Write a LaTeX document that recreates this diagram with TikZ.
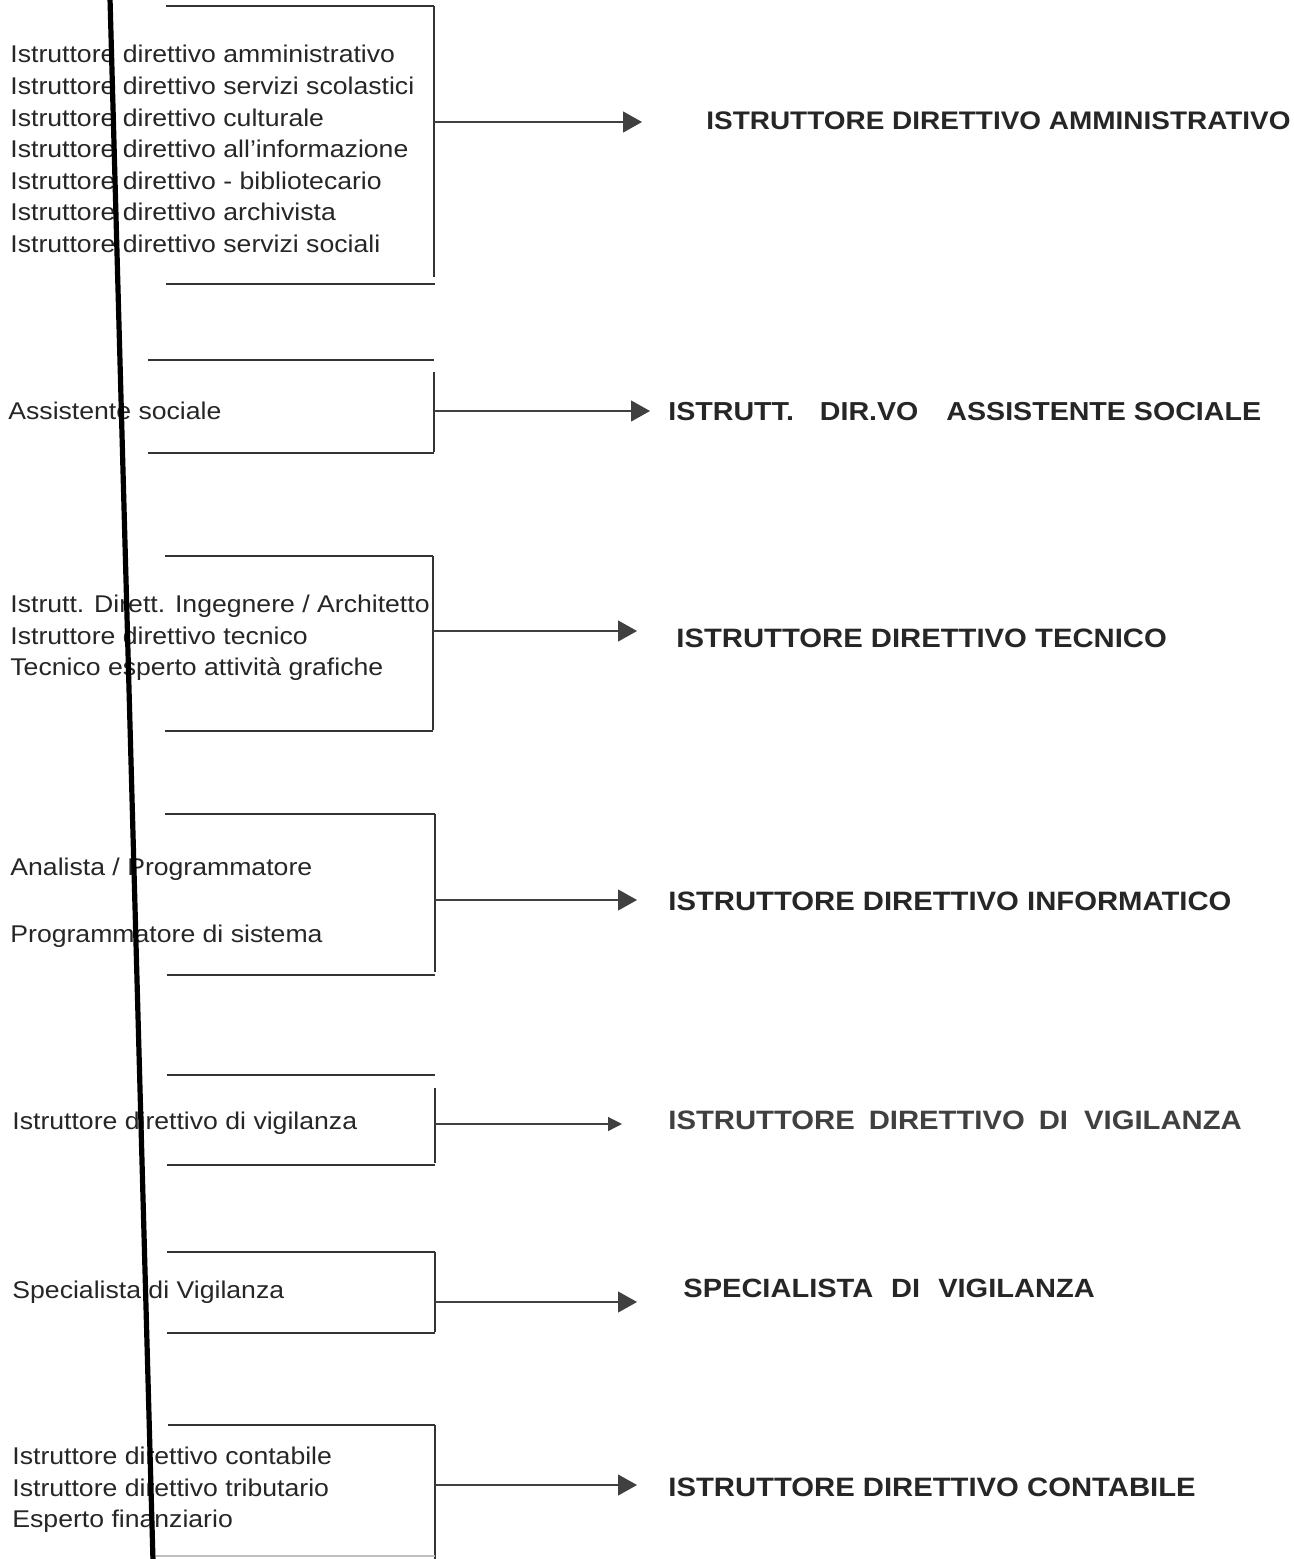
\documentclass[tikz,border=0pt]{standalone}
\usepackage{fontspec}
\setmainfont[FakeStretch=1.1]{Liberation Sans}
\usetikzlibrary{arrows.meta}

\begin{document}
\begin{tikzpicture}[x=0.5pt,y=-0.5pt,
      voce/.style={anchor=west,align=left,inner sep=0pt,text=black!85,font=\fontsize{12.1}{15.8}\selectfont},
      profilo/.style={anchor=west,inner sep=0pt,text=black!85,font=\fontsize{13.3}{15}\selectfont\bfseries},
      riga/.style={line width=0.9pt,black!80},
      lato/.style={line width=0.6pt,black!80},
      freccia/.style={line width=0.6pt,black!75,-{Triangle[length=9.5pt,width=10.5pt]}}]
      \useasboundingbox (0,0) rectangle (1294,1559);
      % profili di partenza
      \node[voce] (v1) at (10,149) {Istruttore direttivo amministrativo\\Istruttore direttivo servizi scolastici\\Istruttore direttivo culturale\\Istruttore direttivo all’informazione\\Istruttore direttivo - bibliotecario\\Istruttore direttivo archivista\\Istruttore direttivo servizi sociali};
      \node[voce] (v2) at (8,411) {Assistente sociale};
      \node[voce] (v3) at (10,638) {Istrutt. Dirett. Ingegnere / Architetto\\Istruttore direttivo tecnico\\Tecnico esperto attività grafiche};
      \node[voce] (v4) at (10,903) {Analista / Programmatore\\[17.5pt]Programmatore di sistema};
      \node[voce] (v5) at (12,1123) {Istruttore direttivo di vigilanza};
      \node[voce] (v6) at (12,1292) {Specialista di Vigilanza};
      \node[voce] (v7) at (12,1490) {Istruttore direttivo contabile\\Istruttore direttivo tributario\\Esperto finanziario};
      % parentesi
      \draw[riga] (166,6) -- (434,6);
      \draw[lato] (434,6) -- (434,277);
      \draw[riga] (166,284) -- (435,284);
      \draw[riga] (148,360) -- (434,360);
      \draw[lato] (434,372) -- (434,452);
      \draw[riga] (148,453) -- (434,453);
      \draw[riga] (165,556) -- (433,556);
      \draw[lato] (433,556) -- (433,730);
      \draw[riga] (165,731) -- (433,731);
      \draw[riga] (165,814) -- (435,814);
      \draw[lato] (435,814) -- (435,972);
      \draw[riga] (167,975) -- (435,975);
      \draw[riga] (167,1075) -- (435,1075);
      \draw[lato] (435,1088) -- (435,1163);
      \draw[riga] (167,1165) -- (435,1165);
      \draw[riga] (167,1252) -- (435,1252);
      \draw[lato] (435,1252) -- (435,1332);
      \draw[riga] (167,1333) -- (435,1333);
      \draw[riga] (168,1425) -- (435,1425);
      \draw[lato] (435,1425) -- (435,1559);
      \draw[line width=0.6pt,black!25] (155,1556) -- (435,1556);
      % riga spessa
      \draw[line width=2.6pt,black] (110,-2) -- (153,1561);
      % profili di arrivo
      \node[profilo,font=\fontsize{12.7}{15}\selectfont\bfseries] (p1) at (706,121) {ISTRUTTORE DIRETTIVO AMMINISTRATIVO};
      \node[profilo,font=\fontsize{13}{15}\selectfont\bfseries] (p2) at (668,412) {ISTRUTT.\hspace{13pt}DIR.VO\hspace{14pt}ASSISTENTE SOCIALE};
      \node[profilo] (p3) at (676,638) {ISTRUTTORE DIRETTIVO TECNICO};
      \node[profilo] (p4) at (668,901) {ISTRUTTORE DIRETTIVO INFORMATICO};
      \node[profilo,text=black!75] (p5) at (668,1120) {ISTRUTTORE\hspace{7pt}DIRETTIVO\hspace{7pt}DI\hspace{8pt}VIGILANZA};
      \node[profilo,font=\fontsize{13.2}{15}\selectfont\bfseries] (p6) at (683,1288) {SPECIALISTA\hspace{9pt}DI\hspace{9pt}VIGILANZA};
      \node[profilo] (p7) at (668,1487) {ISTRUTTORE DIRETTIVO CONTABILE};
      % frecce
      \coordinate (s1) at (434,122); \coordinate (a1) at (642,122);
      \coordinate (s2) at (434,411); \coordinate (a2) at (650,411);
      \coordinate (s3) at (433,631); \coordinate (a3) at (637,631);
      \coordinate (s4) at (435,900); \coordinate (a4) at (637,900);
      \coordinate (s5) at (435,1124); \coordinate (a5) at (622,1124);
      \coordinate (s6) at (435,1302); \coordinate (a6) at (637,1302);
      \coordinate (s7) at (435,1485); \coordinate (a7) at (637,1485);
      \draw[freccia] (s1) -- (a1);
      \draw[freccia] (s2) -- (a2);
      \draw[freccia] (s3) -- (a3);
      \draw[freccia] (s4) -- (a4);
      \draw[freccia,-{Triangle[length=7pt,width=7pt]}] (s5) -- (a5);
      \draw[freccia] (s6) -- (a6);
      \draw[freccia] (s7) -- (a7);
    \end{tikzpicture}
\end{document}
